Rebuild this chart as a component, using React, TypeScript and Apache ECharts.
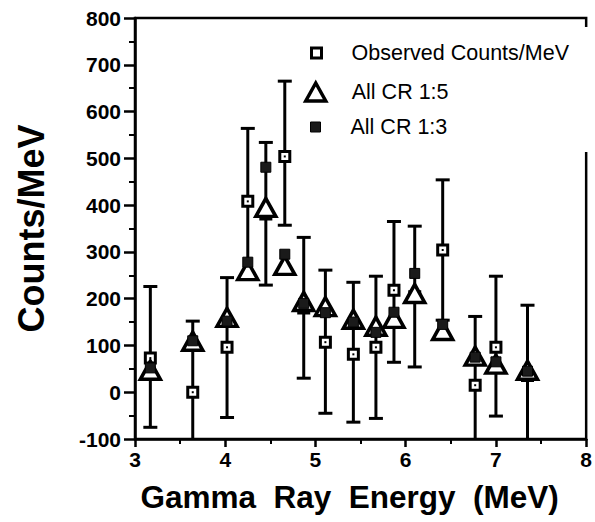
import React, { useEffect, useRef } from 'react';
import * as echarts from 'echarts';

// Gamma ray energy (MeV) of each measured bin
const energies = [3.17, 3.64, 4.02, 4.25, 4.45, 4.66, 4.87, 5.11, 5.42, 5.67, 5.87, 6.1, 6.41, 6.77, 7.0, 7.35];
// Observed counts/MeV and its error bar limits
const observed = [73, 0, 96, 408, 381, 504, 180, 107, 81, 96, 218, 204, 304, 15, 96, 36];
const errLow = [-75, -150, -54, 252, 229, 357, 30, -45, -64, -56, 64, 54, 154, -147, -51, -114];
const errHigh = [226, 152, 245, 564, 534, 665, 331, 261, 235, 248, 365, 355, 454, 162, 248, 186];
// Model predictions
const allCR15 = [47, 109, 160, 260, 395, 271, 194, 183, 156, 141, 158, 211, 132, 77, 60, 47];
const allCR13 = [52, 110, 152, 278, 481, 295, 190, 170, 150, 128, 171, 254, 145, 75, 65, 45];

const seriesNames = ['Observed Counts/MeV', 'All CR 1:5', 'All CR 1:3'];
const xTitle = 'Gamma  Ray  Energy  (MeV)';
const yTitle = 'Counts/MeV';

const FONT = "'Liberation Sans', Arial, Helvetica, sans-serif";

export default function App() {
  const ref = useRef<HTMLDivElement>(null);
  useEffect(() => {
    if (!ref.current) return;
    const chart = echarts.init(ref.current, undefined, { renderer: 'svg' });
    const pts = (vals: number[]) => energies.map((e, i) => [e, vals[i]]);
    const errData = energies.map((e, i) => [e, errLow[i], errHigh[i]]);
    const axisLabel = { color: '#000', fontSize: 21, fontWeight: 'bold' as const, fontFamily: FONT };
    const legendBase = {
      orient: 'vertical' as const,
      padding: 0,
      selectedMode: false,
      textStyle: { color: '#000', fontSize: 21.5, fontFamily: FONT, lineHeight: 24 },
    };
    chart.setOption({
      animation: false,
      backgroundColor: '#fff',
      grid: { left: 135, right: 8, top: 18, bottom: 83, show: true, borderColor: '#000', borderWidth: 2.5, containLabel: false },
      xAxis: {
        type: 'value', min: 3, max: 8, interval: 1,
        name: xTitle, nameLocation: 'middle', nameGap: 42,
        nameTextStyle: { color: '#000', fontSize: 31.5, fontWeight: 'bold', fontFamily: FONT, padding: [0, 22, 0, 0] },
        axisLine: { show: true, onZero: false, lineStyle: { color: '#000', width: 2.5 } },
        axisTick: { show: true, inside: false, length: 8, lineStyle: { color: '#000', width: 2.5 } },
        minorTick: { show: true, splitNumber: 2, length: 5, lineStyle: { color: '#000', width: 2 } },
        axisLabel: { ...axisLabel, margin: 10 },
        splitLine: { show: false },
      },
      yAxis: {
        type: 'value', min: -100, max: 800, interval: 100,
        name: yTitle, nameLocation: 'middle', nameGap: 86,
        nameTextStyle: { color: '#000', fontSize: 36, fontWeight: 'bold', fontFamily: FONT },
        axisLine: { show: true, onZero: false, lineStyle: { color: '#000', width: 2.5 } },
        axisTick: { show: true, inside: false, length: 11, lineStyle: { color: '#000', width: 2.5 } },
        minorTick: { show: true, splitNumber: 2, length: 6, lineStyle: { color: '#000', width: 2 } },
        axisLabel: { ...axisLabel, margin: 14 },
        splitLine: { show: false },
      },
      legend: [
        { ...legendBase, data: [{ name: seriesNames[0], icon: 'rect' }], left: 310, top: 41, itemWidth: 10, itemHeight: 10,
          itemStyle: { color: '#fff', borderColor: '#000', borderWidth: 3 },
          textStyle: { ...legendBase.textStyle, padding: [0, 0, 0, 25] } },
        { ...legendBase, data: [{ name: seriesNames[1], icon: 'triangle' }], left: 304, top: 80, itemWidth: 20, itemHeight: 18,
          itemStyle: { color: '#fff', borderColor: '#000', borderWidth: 3.5 },
          textStyle: { ...legendBase.textStyle, padding: [0, 0, 0, 21] } },
        { ...legendBase, data: [{ name: seriesNames[2], icon: 'rect' }], left: 310, top: 115, itemWidth: 10, itemHeight: 10,
          itemStyle: { color: '#1a1a1a', borderColor: '#000', borderWidth: 1 },
          textStyle: { ...legendBase.textStyle, padding: [0, 0, 0, 25] } },
      ],
      graphic: [
        { type: 'rect', shape: { x: 578, y: 27, width: 17, height: 125 }, style: { fill: '#fff' }, z: 100 },
      ],
      series: [
        {
          type: 'custom', name: 'errors', data: errData, clip: true, z: 1,
          encode: { x: 0, y: [1, 2] },
          renderItem: (params: any, api: any) => {
            const x = api.value(0);
            const lo = api.coord([x, api.value(1)]);
            const hi = api.coord([x, api.value(2)]);
            const hw = 7;
            const style = { stroke: '#000', lineWidth: 3, fill: 'none' };
            return {
              type: 'group',
              children: [
                { type: 'line', shape: { x1: lo[0], y1: lo[1], x2: hi[0], y2: hi[1] }, style },
                { type: 'line', shape: { x1: hi[0] - hw, y1: hi[1], x2: hi[0] + hw, y2: hi[1] }, style },
                { type: 'line', shape: { x1: lo[0] - hw, y1: lo[1], x2: lo[0] + hw, y2: lo[1] }, style },
              ],
            };
          },
        },
        {
          type: 'scatter', name: seriesNames[0], data: pts(observed), symbol: 'rect', symbolSize: 10, z: 2,
          itemStyle: { color: '#fff', borderColor: '#000', borderWidth: 3, opacity: 1 },
        },
        {
          type: 'scatter', name: 'observed-dot', data: pts(observed), symbol: 'rect', symbolSize: 2, z: 3,
          itemStyle: { color: '#000', opacity: 1 }, silent: true,
        },
        {
          type: 'scatter', name: seriesNames[1], data: pts(allCR15), symbol: 'triangle', symbolSize: [20, 18], z: 4,
          itemStyle: { color: '#fff', borderColor: '#000', borderWidth: 3.5, opacity: 1 },
        },
        {
          type: 'scatter', name: seriesNames[2], data: pts(allCR13), symbol: 'rect', symbolSize: 10, z: 5,
          itemStyle: { color: '#1a1a1a', borderColor: '#000', borderWidth: 1, opacity: 1 },
        },
      ],
    });
    return () => chart.dispose();
  }, []);
  return <div ref={ref} style={{ position: 'fixed', left: 0, top: 0, width: 595, height: 522, background: '#fff' }} />;
}
